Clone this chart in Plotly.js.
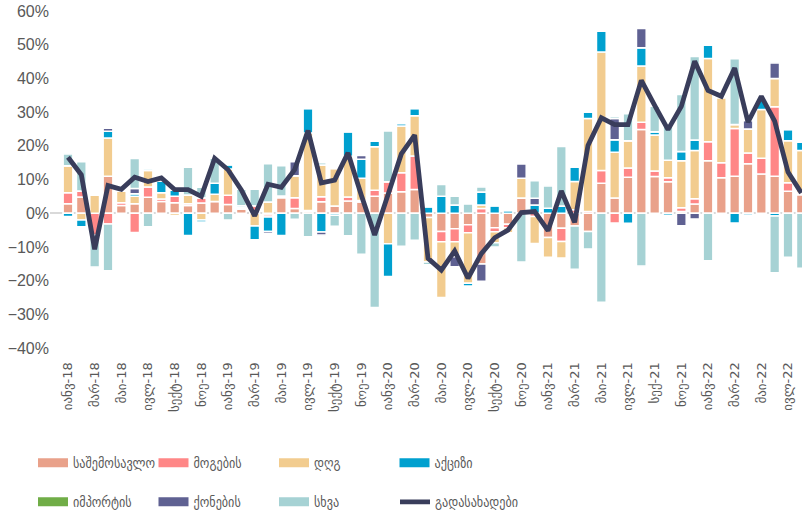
<!DOCTYPE html>
<html><head><meta charset="utf-8">
<script src="https://cdn.plot.ly/plotly-3.0.1.min.js"></script>
<style>html,body{margin:0;padding:0;background:#fff}#chart{width:802px;height:513px}</style>
</head><body><div id="chart"></div>
<script>
// Monthly categories Jan-2018 .. Aug-2022
const months = [
 '2018-01','2018-02','2018-03','2018-04','2018-05','2018-06','2018-07','2018-08','2018-09','2018-10','2018-11','2018-12',
 '2019-01','2019-02','2019-03','2019-04','2019-05','2019-06','2019-07','2019-08','2019-09','2019-10','2019-11','2019-12',
 '2020-01','2020-02','2020-03','2020-04','2020-05','2020-06','2020-07','2020-08','2020-09','2020-10','2020-11','2020-12',
 '2021-01','2021-02','2021-03','2021-04','2021-05','2021-06','2021-07','2021-08','2021-09','2021-10','2021-11','2021-12',
 '2022-01','2022-02','2022-03','2022-04','2022-05','2022-06','2022-07','2022-08'];

const tickLabels = ['იანვ-18','მარ-18','მაი-18','ივლ-18','სექტ-18','ნოე-18',
 'იანვ-19','მარ-19','მაი-19','ივლ-19','სექტ-19','ნოე-19',
 'იანვ-20','მარ-20','მაი-20','ივლ-20','სექტ-20','ნოე-20',
 'იანვ-21','მარ-21','მაი-21','ივლ-21','სექ-21','ნოე-21',
 'იანვ-22','მარ-22','მაი-22','ივლ-22'];

const seriesNames = ['საშემოსავლო','მოგების','დღგ','აქციზი','იმპორტის','ქონების','სხვა'];
const lineName = 'გადასახადები';

const incomeTax = [2.8,4.8,0,11.0,2.3,2.8,4.7,3.5,3.1,2.3,3.0,3.5, 2.6,1.2,0,-0.5,4.6,1.4,0.5,3.4,2.1,3.6,3.3,5.0, 6.0,6.4,7.0,-1.3,-5.4,-4.6,-3.4,-15.1,-4.3,-3.3,4.5,0, -7.2,-4.5,-3.8,-5.4,8.9,4.5,10.7,24.8,10.9,9.3,0.5,2.7, 15.6,10.5,11.0,14.7,11.6,11.0,6.5,5.5];
const profitTax = [3.3,1.8,-6.5,-3.2,0.8,-5.7,3.1,0.7,1.9,0.5,1.6,0, 2.7,0.4,2.2,-0.6,0.5,3.2,0.3,1.5,0,1.2,0.5,1.8, 3.3,5.6,10.0,0,-3.1,-3.9,-2.4,1.4,-1.2,-1.0,0,-1.0, 0,-3.9,1.0,0.5,3.8,-2.9,2.7,2.2,1.6,1.2,1.1,1.6, 5.6,4.5,14.1,3.2,4.7,20.6,2.5,0.5];
const vat = [8.0,-2.0,5.4,11.3,3.4,2.2,4.9,1.9,-0.7,2.6,-2.0,2.1, 7.8,0,-3.8,3.3,0,6.5,23.0,9.4,11.2,12.1,6.6,12.9, -9.1,13.9,11.9,-13.2,-16.5,-4.4,-15.0,1.0,-3.3,-1.5,5.9,-8.0, -5.9,-4.9,8.4,27.6,35.1,13.6,8.1,16.7,10.7,5.2,14.0,14.3, 24.7,19.3,1.2,7.1,14.5,8.4,12.5,12.6];
const excise = [-1.0,-2.0,0,2.0,0,0.8,0.5,3.5,1.9,-6.6,-0.6,3.3, 1.3,0.6,-4.1,-4.3,-6.6,0,7.3,-5.6,-0.6,7.3,5.6,1.7, -9.7,0.7,2.2,1.9,5.0,2.4,-0.8,3.9,2.2,0.8,0,2.4, 1.5,2.1,4.3,1.9,6.2,3.7,-3.0,5.4,1.0,-0.6,2.7,3.1, 3.9,0,-2.9,-0.5,2.9,-0.8,3.3,2.5];
const importTax = [0,0,0,0,0,0,0,0,0,0,0,0, 0,0,0,0,0,0,0,0,0,0,0,0, 0,0,0,0,0,0,0,0,0,0,0,0, 0,0,0,0,0,0,0,0,0,0,0,0, 0,0,0,0,0,0,0,0];
const propertyTax = [0,0,0,0.9,0,1.5,0,0,0,0,0,0, 0,0,0,-0.6,0,4.2,0,-0.9,0,0,1.1,0, 0,0,0,0,0,-3.0,0,-5.1,0,0,4.2,2.0, 0,0,0,0,0,6.3,0,5.7,0,0,-3.7,-1.7, 0,0,0,2.5,0,4.6,0,0];
const other = [3.5,8.7,-9.5,-13.9,0,8.9,-4.0,0,0,8.2,3.1,7.4, -2.0,4.9,4.9,11.4,9.0,-1.8,-7.0,0.7,-3.3,-6.7,-12.2,-28.0, 15.1,-9.8,-8.0,-0.8,3.5,2.6,2.7,1.5,-1.2,0,-14.5,5.2, 6.6,17.7,-12.8,-5.2,-26.4,0.6,8.0,-15.7,7.5,10.0,16.9,24.8, -14.1,0,19.5,0,0,-16.9,-13.1,-16.3];
const totalTaxes = [16.6,11.4,-10.7,8.2,7.1,10.7,9.4,10.5,7.0,7.0,5.0,16.3, 12.9,6.9,-0.8,8.6,7.7,12.9,24.5,9.0,9.8,17.9,5.3,-6.5, 5.5,17.6,23.2,-13.4,-16.9,-11.2,-19.3,-12.0,-7.3,-5.0,0.2,0.5, -5.2,6.6,-2.7,20.1,28.3,26.3,26.3,39.4,32.0,24.8,31.7,45.1, 36.4,34.7,43.1,27.0,34.7,27.3,12.2,6.0];

const colors = ['#E9A18A','#FF8787','#F2CC8F','#00A0CF','#70AD47','#5F6192','#A6D2D4'];
const lineColor = '#393D5B';
const seriesData = [incomeTax, profitTax, vat, excise, importTax, propertyTax, other];

const traces = [];
seriesData.forEach((vals, k) => {
  traces.push({type:'bar', x: months, y: vals, name: seriesNames[k], showlegend:false,
    marker:{color: colors[k], line:{color:'#ffffff', width:1.5}}, hoverinfo:'x+y+name'});
});
// legend swatches (wide rectangles like the original)
seriesNames.forEach((nm, k) => {
  traces.push({type:'scatter', mode:'lines', x:[null], y:[null], name: nm,
    legend: k < 4 ? 'legend' : 'legend2',
    line:{color: colors[k], width: 9}, hoverinfo:'skip'});
});
traces.push({type:'scatter', mode:'lines', x: months, y: totalTaxes, name: lineName,
  legend:'legend3', line:{color: lineColor, width: 4.8, shape:'linear'}});

const tickVals = months.filter((m, i) => i % 2 === 0);

const legFont = {family:"'DejaVu Sans Condensed', 'DejaVu Sans'", size:13.5, color:'#595959'};
const legBase = {orientation:'h', xref:'container', yref:'container', xanchor:'left', yanchor:'middle',
  font: legFont, bgcolor:'rgba(0,0,0,0)', traceorder:'normal'};
const layout = {
  width: 802, height: 513,
  margin: {l: 50, r: 0, t: 11, b: 165, pad: 0},
  paper_bgcolor:'#ffffff', plot_bgcolor:'#ffffff',
  barmode:'relative', bargap: 0.27,
  xaxis: {type:'category', range:[-1.35, 55.05], tickmode:'array', tickvals: tickVals, ticktext: tickLabels,
    tickangle: -90, showgrid:false, zeroline:false, showline:false, ticks:'outside', ticklen:8, tickcolor:'rgba(0,0,0,0)',
    tickfont:{family:'DejaVu Sans', size:13, color:'#595959'}},
  yaxis: {range:[-40, 60], dtick:10, ticksuffix:'%', showgrid:false, zeroline:true, zerolinecolor:'#D9D9D9', zerolinewidth:2,
    showline:false, tickfont:{family:'Liberation Sans', size:16, color:'#595959'}},
  legend: Object.assign({}, legBase, {x: 33/802, y: 1 - 463/513, entrywidth: 75.5, entrywidthmode:'pixels'}),
  legend2: Object.assign({}, legBase, {x: 33/802, y: 1 - 502/513, entrywidth: 75.5, entrywidthmode:'pixels'}),
  legend3: Object.assign({}, legBase, {x: 395/802, y: 1 - 502/513}),
  showlegend: true
};
Plotly.newPlot('chart', traces, layout, {displayModeBar:false, staticPlot:true});
</script></body></html>
